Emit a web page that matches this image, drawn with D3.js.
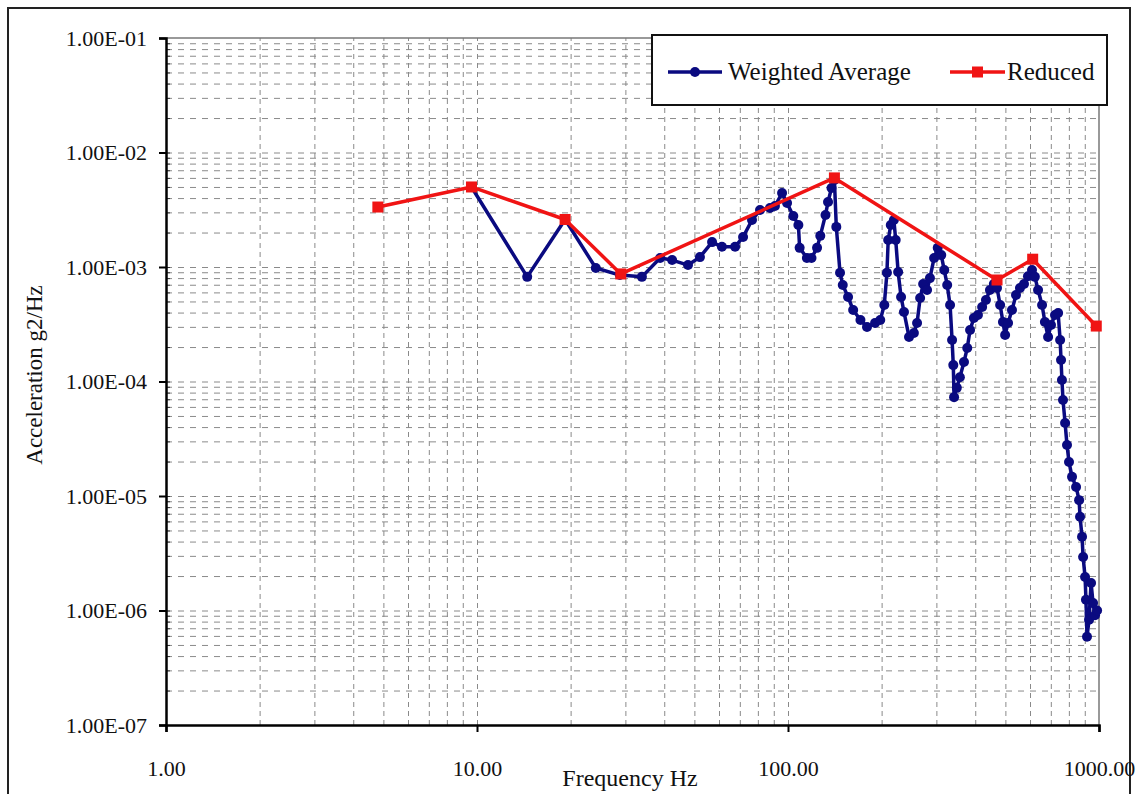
<!DOCTYPE html>
<html>
<head>
<meta charset="utf-8">
<script src="https://cdn.jsdelivr.net/npm/d3@7"></script>
<style>
  html, body { margin: 0; padding: 0; background: #fff; }
  svg { display: block; }
  text { font-family: "Liberation Serif", "Times New Roman", serif; fill: #111; }
</style>
</head>
<body>
<svg id="chart" width="1138" height="794"></svg>
<script>
// ---- data ----
const freqWeighted = [9.6, 14.5, 19.2, 24.1, 28.8, 33.9, 38.8, 42.4, 47.7, 52.1,
  57.0, 61.3, 67.6, 71.7, 76.6, 81.3, 87.5, 90.8, 95.7, 99.3,
  104, 108, 109, 115, 119, 124, 127, 132, 134.5, 138,
  141, 143, 147, 150, 156, 162, 171, 179.5, 190.5, 198,
  204, 208, 210, 214, 219, 222, 226, 231, 236, 245,
  254, 260, 266, 272, 280, 286, 295, 303, 311, 318,
  325, 332, 337, 340, 342, 349, 357, 368, 377, 385,
  396, 408, 421, 433, 446, 459, 470, 481, 491, 499,
  510, 525, 541, 557, 574, 591, 609, 622, 637, 656,
  670, 686, 701, 722, 739, 750, 755, 760, 766, 778,
  789, 801, 819, 844, 863, 869, 882, 889, 902, 908,
  915, 929, 943, 957, 971, 986];
const accelWeighted = [5.0e-3, 8.2e-4, 2.6e-3, 9.8e-4, 8.5e-4, 8.2e-4, 1.20e-3, 1.15e-3, 1.04e-3, 1.22e-3,
  1.65e-3, 1.50e-3, 1.50e-3, 1.83e-3, 2.57e-3, 3.15e-3, 3.27e-3, 3.41e-3, 4.43e-3, 3.62e-3,
  2.79e-3, 2.33e-3, 1.47e-3, 1.20e-3, 1.20e-3, 1.47e-3, 1.87e-3, 2.85e-3, 3.70e-3, 4.90e-3,
  5.75e-3, 2.24e-3, 8.9e-4, 6.97e-4, 5.47e-4, 4.21e-4, 3.44e-4, 2.99e-4, 3.24e-4, 3.44e-4,
  4.66e-4, 8.9e-4, 1.72e-3, 2.33e-3, 2.57e-3, 1.72e-3, 9.05e-4, 5.47e-4, 4.05e-4, 2.45e-4,
  2.65e-4, 3.24e-4, 5.36e-4, 7.1e-4, 6.3e-4, 8.0e-4, 1.20e-3, 1.47e-3, 1.27e-3, 9.4e-4,
  6.97e-4, 4.66e-4, 2.30e-4, 1.39e-4, 7.3e-5, 8.8e-5, 1.09e-4, 1.48e-4, 1.96e-4, 2.82e-4,
  3.59e-4, 3.81e-4, 4.48e-4, 5.15e-4, 6.3e-4, 7.1e-4, 6.56e-4, 4.66e-4, 3.31e-4, 2.55e-4,
  3.24e-4, 4.21e-4, 5.69e-4, 6.56e-4, 7.1e-4, 8.3e-4, 9.4e-4, 8.2e-4, 6.3e-4, 4.66e-4,
  3.31e-4, 2.45e-4, 3.11e-4, 3.81e-4, 3.96e-4, 2.30e-4, 1.54e-4, 1.03e-4, 6.9e-5, 4.34e-5,
  2.79e-5, 1.98e-5, 1.47e-5, 1.20e-5, 9.2e-6, 6.6e-6, 4.4e-6, 2.93e-6, 1.96e-6, 1.24e-6,
  5.9e-7, 8.3e-7, 1.74e-6, 1.16e-6, 9.1e-7, 1.0e-6];
const freqReduced = [4.8, 9.6, 19.2, 29, 141, 470, 612, 980];
const accelReduced = [3.34e-3, 5.0e-3, 2.6e-3, 8.7e-4, 6.0e-3, 7.7e-4, 1.17e-3, 3.05e-4];

const xTickValues = [1, 10, 100, 1000];
const xTickLabels = ["1.00", "10.00", "100.00", "1000.00"];
const yTickValues = [1e-7, 1e-6, 1e-5, 1e-4, 1e-3, 1e-2, 1e-1];
const yTickLabels = ["1.00E-07", "1.00E-06", "1.00E-05", "1.00E-04", "1.00E-03", "1.00E-02", "1.00E-01"];
const seriesNames = ["Weighted Average", "Reduced"];
const xTitle = "Frequency Hz";
const yTitle = "Acceleration g2/Hz";

// ---- layout ----
const svg = d3.select("#chart");
const L = 166, R = 1099, T = 38, B = 725;
const x = d3.scaleLog().domain([1, 1000]).range([L, R]);
const y = d3.scaleLog().domain([1e-7, 1e-1]).range([B, T]);

// outer border
svg.append("rect").attr("x", 8).attr("y", 8).attr("width", 1122).attr("height", 800)
  .attr("fill", "#fff").attr("stroke", "#222").attr("stroke-width", 2);

// minor+major grid values
const xGrid = [], yGrid = [];
[1, 10, 100].forEach(d => { for (let k = 1; k <= 9; k++) xGrid.push(d * k); });
xGrid.push(1000);
[1e-7, 1e-6, 1e-5, 1e-4, 1e-3, 1e-2].forEach(d => { for (let k = 1; k <= 9; k++) yGrid.push(d * k); });
yGrid.push(1e-1);

const gx = svg.append("g").attr("transform", `translate(0,${B})`)
  .call(d3.axisBottom(x).tickValues(xGrid.filter(v => v > 1 && v < 1000)).tickSize(-(B - T)).tickFormat(""));
gx.select(".domain").remove();
gx.selectAll("line").attr("stroke", "#8a8a8a").attr("stroke-dasharray", "5,4");

const gy = svg.append("g").attr("transform", `translate(${L},0)`)
  .call(d3.axisLeft(y).tickValues(yGrid.filter(v => v > 1.01e-7 && v < 0.099)).tickSize(-(R - L)).tickFormat(""));
gy.select(".domain").remove();
gy.selectAll("line").attr("stroke", "#8a8a8a").attr("stroke-dasharray", "6,6");

// plot border (top/right)
svg.append("line").attr("x1", L).attr("x2", R).attr("y1", T).attr("y2", T).attr("stroke", "#777").attr("stroke-width", 1.5);
svg.append("line").attr("x1", R).attr("x2", R).attr("y1", T).attr("y2", B).attr("stroke", "#777").attr("stroke-width", 1.5);

// minor ticks on axes
const yMinor = svg.append("g").attr("transform", `translate(${L},0)`)
  .call(d3.axisRight(y).tickValues(yGrid.filter(v => v > 1.01e-7 && v < 0.099)).tickSize(4).tickFormat(""));
yMinor.select(".domain").remove();
yMinor.selectAll("line").attr("stroke", "#333");

// axes
const ax = svg.append("g").attr("transform", `translate(0,${B})`)
  .call(d3.axisBottom(x).tickValues(xTickValues).tickSize(7).tickPadding(28)
    .tickFormat((d, i) => xTickLabels[i]));
ax.select(".domain").attr("stroke", "#000").attr("stroke-width", 2.5);
ax.selectAll("line").attr("stroke", "#000").attr("stroke-width", 2);
ax.selectAll("text").attr("font-size", 22).attr("font-family", "Liberation Serif").attr("fill", "#111");

const ay = svg.append("g").attr("transform", `translate(${L},0)`)
  .call(d3.axisLeft(y).tickValues(yTickValues).tickSize(7).tickPadding(12)
    .tickFormat((d, i) => yTickLabels[i]));
ay.select(".domain").attr("stroke", "#000").attr("stroke-width", 2.5);
ay.selectAll("line").attr("stroke", "#000").attr("stroke-width", 2);
ay.selectAll("text").attr("font-size", 22).attr("font-family", "Liberation Serif").attr("fill", "#111");

// axis titles
svg.append("text").attr("x", 630).attr("y", 786).attr("text-anchor", "middle")
  .attr("font-size", 24).text(xTitle);
svg.append("text").attr("transform", `translate(42,${375}) rotate(-90)`).attr("text-anchor", "middle")
  .attr("font-size", 23).text(yTitle);

// series
const blue = "#0a0a80", red = "#f01414";
const wa = freqWeighted.map((f, i) => [f, accelWeighted[i]]);
const rd = freqReduced.map((f, i) => [f, accelReduced[i]]);
const line = d3.line().x(d => x(d[0])).y(d => y(d[1]));

svg.append("path").datum(wa).attr("d", line).attr("fill", "none")
  .attr("stroke", blue).attr("stroke-width", 3.5).attr("stroke-linejoin", "round");
svg.append("g").selectAll("circle").data(wa).join("circle")
  .attr("cx", d => x(d[0])).attr("cy", d => y(d[1])).attr("r", 5).attr("fill", blue);

svg.append("path").datum(rd).attr("d", line).attr("fill", "none")
  .attr("stroke", red).attr("stroke-width", 3.5).attr("stroke-linejoin", "round");
svg.append("g").selectAll("rect").data(rd).join("rect")
  .attr("x", d => x(d[0]) - 5.5).attr("y", d => y(d[1]) - 5.5)
  .attr("width", 11).attr("height", 11).attr("fill", red);

// legend
const lg = svg.append("g");
lg.append("rect").attr("x", 652).attr("y", 35).attr("width", 455).attr("height", 70)
  .attr("fill", "#fff").attr("stroke", "#111").attr("stroke-width", 2);
lg.append("line").attr("x1", 668).attr("x2", 722).attr("y1", 72).attr("y2", 72)
  .attr("stroke", blue).attr("stroke-width", 3.5);
lg.append("circle").attr("cx", 695).attr("cy", 72).attr("r", 5).attr("fill", blue);
lg.append("text").attr("x", 728).attr("y", 80).attr("font-size", 25).text(seriesNames[0]);
lg.append("line").attr("x1", 950).attr("x2", 1005).attr("y1", 72).attr("y2", 72)
  .attr("stroke", red).attr("stroke-width", 3.5);
lg.append("rect").attr("x", 972).attr("y", 66.5).attr("width", 11).attr("height", 11).attr("fill", red);
lg.append("text").attr("x", 1007).attr("y", 80).attr("font-size", 25).text(seriesNames[1]);
</script>
</body>
</html>
